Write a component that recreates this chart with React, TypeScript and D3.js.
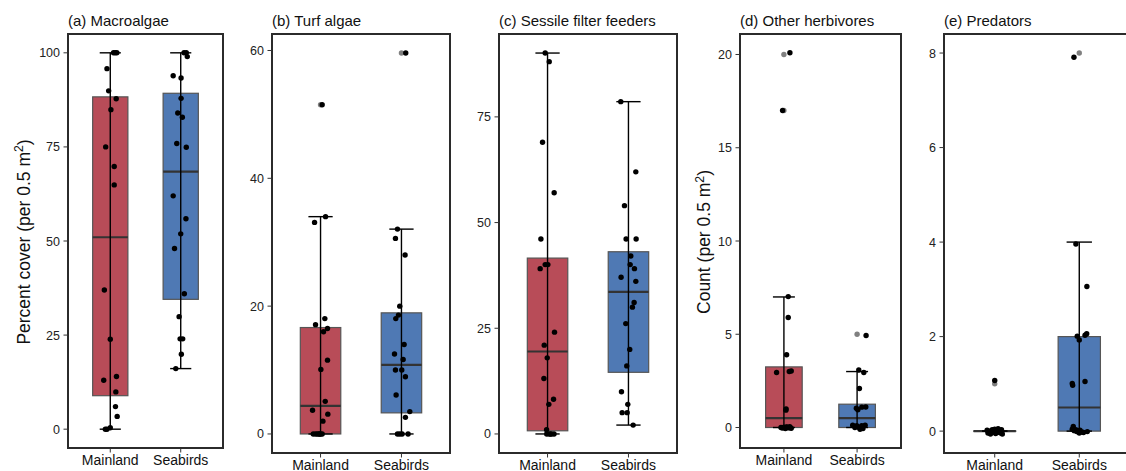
import React from 'react';
import * as d3 from 'd3';

const groups = ['Mainland', 'Seabirds'];
const panelTitles = ['(a) Macroalgae', '(b) Turf algae', '(c) Sessile filter feeders', '(d) Other herbivores', '(e) Predators'];
const yTitles = ['Percent cover (per 0.5 m', '', '', 'Count (per 0.5 m', ''];

const macroTicks = [0, 25, 50, 75, 100];
const turfTicks = [0, 20, 40, 60];
const filterTicks = [0, 25, 50, 75];
const herbTicks = [0, 5, 10, 15, 20];
const predTicks = [0, 2, 4, 6, 8];

// box stats [lower whisker, Q1, median, Q3, upper whisker]: Mainland, Seabirds
const macroStats = [[0, 8.9, 51, 88.3, 100], [16.1, 34.5, 68.45, 89.25, 100]];
const turfStats = [[0, 0, 4.4, 16.65, 34], [0, 3.3, 10.8, 18.95, 32.05]];
const filterStats = [[0, 0.75, 19.5, 41.6, 90.1], [2.1, 14.58, 33.6, 43.1, 78.6]];
const herbStats = [[0, 0, 0.5, 3.25, 7], [0, 0, 0.5, 1.25, 3]];
const predStats = [[0, 0, 0, 0, 0], [0, 0, 0.5, 2, 4]];

// outliers drawn by the boxplot
const macroOutliers = [[], []];
const turfOutliers = [[51.5], [59.6]];
const filterOutliers = [[], []];
const herbOutliers = [[20, 17], [5]];
const predOutliers = [[1], [8]];

// jittered observations: [value, horizontal jitter (category units)]
const macroMainland = [
  [100, 0.046], [100, 0.07], [100, 0.093], [95.8, -0.047], [89.9, -0.023], [87.8, 0.084], [84.9, 0.009],
  [75, -0.065], [69.8, 0.056], [64.9, 0.056], [37, -0.084], [23.9, 0], [13, -0.093], [14, 0.088],
  [9.9, 0.079], [6, 0.074], [3.4, 0.098], [0, -0.07], [0, -0.047], [0.4, 0],
];
const macroSeabirds = [
  [100, 0.047], [100, 0.079], [99, 0.093], [93.9, -0.107], [93.3, 0.005], [87.9, 0.005], [84, -0.042],
  [82.9, 0.023], [75.9, -0.056], [74.9, 0.079], [62, -0.107], [55.9, 0.074], [51.9, 0], [48, -0.088],
  [36, 0.051], [29.9, -0.023], [24, -0.009], [24, 0.028], [19.9, 0.009], [16.1, -0.07],
];
const turfMainland = [
  [51.5, 0.02], [34, 0.062], [33.1, -0.074], [18.05, 0.053], [17.1, -0.062], [16.5, 0.086], [16, 0.037],
  [11.55, 0.086], [10.1, 0.004], [5.1, 0.058], [3.7, -0.099], [3.1, 0.09], [2, 0.029],
  [0, -0.09], [0, -0.06], [0, -0.04], [0, -0.02], [0, -0.01], [0, 0], [0, 0.02],
];
const turfSeabirds = [
  [59.6, 0.053], [32.05, -0.049], [30.6, -0.074], [28, 0.045], [20, -0.021], [18.6, -0.037], [18.05, -0.07],
  [14, 0.033], [12.5, -0.086], [11.65, 0.021], [10, -0.074], [10, 0.004], [8.95, 0.049], [6.1, -0.066],
  [3.5, 0.103], [2.6, 0.049], [0, -0.049], [0, 0.008], [0, 0.082], [0, -0.02],
];
const filterMainland = [
  [90.1, -0.029], [88.06, 0.021], [69, -0.062], [57.05, 0.082], [46.1, -0.082], [40.06, -0.029], [40.06, 0.004],
  [39.1, -0.091], [24.08, 0.086], [21, -0.041], [18, -0.004], [13.1, -0.045], [8.2, 0.074], [7, 0.016],
  [1, -0.012], [0, -0.01], [0, 0.02], [0, 0.05], [0, 0.08], [0, 0.035],
];
const filterSeabirds = [
  [78.6, -0.095], [62, 0.091], [54, -0.049], [46.1, -0.029], [46.1, 0.095], [42.1, 0.029], [40.06, 0.021],
  [39.1, 0.074], [37.07, -0.091], [36.1, 0.091], [31.1, 0.07], [30, 0.049], [26.1, -0.033], [20, 0.016],
  [16.1, -0.021], [10, -0.086], [7, -0.008], [5.04, -0.078], [5.04, -0.016], [2.1, 0.058],
];
const herbMainland = [
  [20.09, 0.082], [17, -0.018], [7.02, 0.059], [5.9, 0.059], [3.9, 0.037], [2.95, -0.1], [3, 0.073],
  [3.03, 0.1], [0.93, 0.027], [1, 0.03],
  [0, -0.04], [-0.03, -0.02], [0.02, 0], [-0.05, 0.02], [0.03, 0.04], [0, 0.05], [-0.02, 0.07],
  [0.04, 0.08], [-0.04, 0.1], [0.01, 0.03],
];
const herbSeabirds = [
  [4.93, 0.123], [3.08, 0.023], [2.95, 0.092], [2.09, 0.032], [1.03, -0.01], [1.09, 0.064], [1.1, 0.119],
  [0.95, 0.01],
  [0.12, -0.06], [0.09, -0.005], [0.09, 0.064], [0.12, 0.11], [-0.09, 0.04], [0.02, 0.02], [-0.05, 0.08], [0, -0.03],
];
const predMainland = [
  [1.07, 0],
  [0.02, -0.09], [-0.04, -0.08], [0, -0.06], [-0.06, -0.05], [0.03, -0.03], [-0.02, -0.02], [0.04, 0],
  [-0.05, 0.01], [0.01, 0.02], [-0.03, 0.03], [0.05, 0.04], [-0.01, 0.05], [0.02, 0.06], [-0.04, 0.07],
  [0.03, 0.08], [-0.06, 0.09], [0, 0.03], [-0.02, -0.04], [0.01, -0.01],
];
const predSeabirds = [
  [7.91, -0.063], [3.96, -0.04], [3.06, 0.09], [2.01, -0.024], [2.03, 0.068], [2.06, 0.088], [1.93, 0],
  [1.01, -0.083], [0.97, -0.078], [1.05, 0.068],
  [0.1, -0.071], [0.04, -0.083], [0.01, -0.06], [-0.01, -0.03], [-0.04, 0], [-0.01, 0.095], [0.02, 0.008],
  [-0.03, 0.05], [0.03, -0.04], [-0.02, 0.03],
];

const panels = [
  { ticks: macroTicks, stats: macroStats, outliers: macroOutliers, points: [macroMainland, macroSeabirds] },
  { ticks: turfTicks, stats: turfStats, outliers: turfOutliers, points: [turfMainland, turfSeabirds] },
  { ticks: filterTicks, stats: filterStats, outliers: filterOutliers, points: [filterMainland, filterSeabirds] },
  { ticks: herbTicks, stats: herbStats, outliers: herbOutliers, points: [herbMainland, herbSeabirds] },
  { ticks: predTicks, stats: predStats, outliers: predOutliers, points: [predMainland, predSeabirds] },
];

const layout = [
  { left: 68, right: 223, top: 34, bottom: 448 },
  { left: 272, right: 450, top: 34, bottom: 453 },
  { left: 499, right: 677, top: 34, bottom: 453 },
  { left: 740, right: 901, top: 34, bottom: 448 },
  { left: 944, right: 1130, top: 34, bottom: 453 },
];

const fills = ['#B84C58', '#4F79B4'];
const FONT = "'Liberation Sans', Arial, Helvetica, sans-serif";

function Panel({ idx }: { idx: number }) {
  const p = panels[idx];
  const L = layout[idx];
  const x = d3.scalePoint<string>().domain(groups).range([L.left, L.right]).padding(0.6);
  const step = x.step();
  const all: number[] = [];
  p.stats.forEach((s) => all.push(...s));
  p.outliers.forEach((o) => all.push(...o));
  p.points.forEach((pts) => pts.forEach((d) => all.push(d[0])));
  const [mn, mx] = d3.extent(all) as [number, number];
  const pad = (mx - mn) * 0.05;
  const y = d3.scaleLinear().domain([mn - pad, mx + pad]).range([L.bottom, L.top]);
  const boxW = step * 0.5;
  const capW = step * 0.3;
  return (
    <g>
      <text x={L.left} y={26} fontSize={15} fontFamily={FONT} fill="#111">{panelTitles[idx]}</text>
      {groups.map((g, gi) => {
        const s = p.stats[gi];
        const cx = x(g) as number;
        return (
          <g key={g}>
            <rect x={cx - boxW / 2} y={y(s[3])} width={boxW} height={Math.max(0.01, y(s[1]) - y(s[3]))}
              fill={fills[gi]} stroke="#555" strokeWidth={1.2} />
            <line x1={cx - boxW / 2} x2={cx + boxW / 2} y1={y(s[2])} y2={y(s[2])} stroke="#333" strokeWidth={2.2} />
            <line x1={cx} x2={cx} y1={y(s[0])} y2={y(s[4])} stroke="#000" strokeWidth={1.4} />
            <line x1={cx - capW / 2} x2={cx + capW / 2} y1={y(s[0])} y2={y(s[0])} stroke="#000" strokeWidth={1.4} />
            <line x1={cx - capW / 2} x2={cx + capW / 2} y1={y(s[4])} y2={y(s[4])} stroke="#000" strokeWidth={1.4} />
            {p.outliers[gi].map((v, i) => (
              <circle key={'o' + i} cx={cx} cy={y(v)} r={2.7} fill="#808080" />
            ))}
            {p.points[gi].map((d, i) => (
              <circle key={'p' + i} cx={cx + d[1] * step} cy={y(d[0])} r={2.7} fill="#000" />
            ))}
          </g>
        );
      })}
      <rect x={L.left} y={L.top} width={L.right - L.left} height={L.bottom - L.top} fill="none" stroke="#2b2b2b" strokeWidth={2} />
      {p.ticks.map((t) => (
        <g key={t}>
          <line x1={L.left - 4.5} x2={L.left} y1={y(t)} y2={y(t)} stroke="#333" strokeWidth={1} />
          <text x={L.left - 8} y={y(t)} dy="0.36em" textAnchor="end" fontSize={12.5} fontFamily={FONT} fill="#222">{t}</text>
        </g>
      ))}
      {groups.map((g) => (
        <g key={g}>
          <line x1={x(g)} x2={x(g)} y1={L.bottom} y2={L.bottom + 4.5} stroke="#333" strokeWidth={1} />
          <text x={x(g)} y={L.bottom + 16.5} textAnchor="middle" fontSize={14} fontFamily={FONT} fill="#111">{g}</text>
        </g>
      ))}
      {yTitles[idx] && (
        <text transform={`translate(${idx === 0 ? 29.5 : 710},242) rotate(-90)`} textAnchor="middle" fontSize={17.5} fontFamily={FONT} fill="#111">
          {yTitles[idx]}
          <tspan dy="-0.5em" fontSize="0.7em">2</tspan>
          <tspan dy="0.35em">)</tspan>
        </text>
      )}
    </g>
  );
}

export default function App() {
  return (
    <svg width={1126} height={471} style={{ position: 'absolute', left: 0, top: 0, background: '#fff' }}>
      <rect width={1126} height={471} fill="#fff" />
      {panels.map((_, i) => <Panel key={i} idx={i} />)}
    </svg>
  );
}
